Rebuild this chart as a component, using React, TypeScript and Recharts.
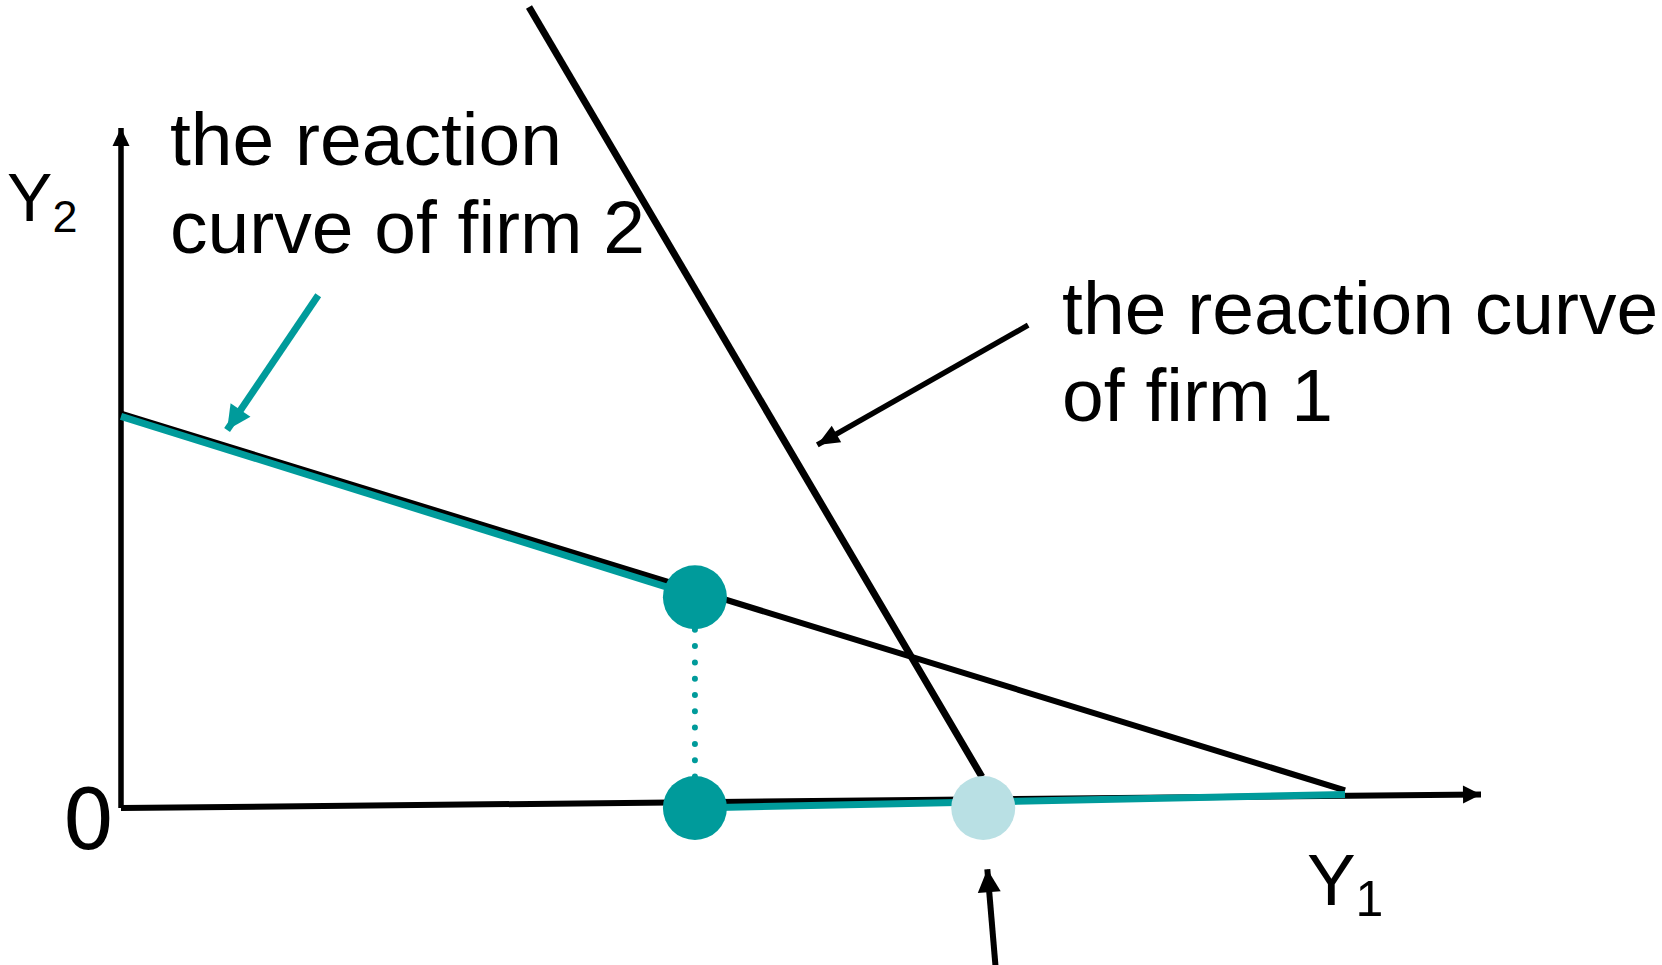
import React from "react";
import { ComposedChart, Line, Scatter, XAxis, YAxis, ReferenceDot } from "recharts";

const W = 1662;
const H = 965;
// where the origin sits and how many pixels one unit of output is
const ORIGIN_X = 121;
const ORIGIN_Y = 808;
const PX = 136;

const teal = "#009b9b";
const lightTeal = "#b9e0e4";

// axes (the Y1 axis is slightly tilted in the original)
const y2Axis = [{ x: 0, y: 0 }, { x: 0, y: 5 }];
const y1Axis = [{ x: 0, y: 0 }, { x: 10, y: 0.1 }];

// reaction curves
const firm2Curve = [{ x: 0, y: 2.9 }, { x: 9, y: 0.13 }];
const firm2Highlight = [{ x: 0, y: 2.88 }, { x: 4.22, y: 1.56 }];
const firm2OnAxis = [{ x: 4.22, y: 0 }, { x: 9, y: 0.1 }];
const firm1Curve = [{ x: 3, y: 5.89 }, { x: 6.33, y: 0.23 }];

// leader's point and its projection onto Y1
const dropLine = [{ x: 4.22, y: 1.55 }, { x: 4.22, y: 0 }];
const leaderPoints = [{ x: 4.22, y: 1.55 }, { x: 4.22, y: 0 }];
const cournotPoint = [{ x: 6.34, y: 0 }];

// pointer arrows
const pointerFirm2 = [{ x: 1.45, y: 3.77 }, { x: 0.78, y: 2.78 }];
const pointerFirm1 = [{ x: 6.67, y: 3.55 }, { x: 5.12, y: 2.67 }];
const pointerBottom = [{ x: 6.43, y: -1.16 }, { x: 6.37, y: -0.45 }];

// text
const firm2Label = ["the reaction", "curve of firm 2"];
const firm1Label = ["the reaction curve", "of firm 1"];

const xDomain = [-ORIGIN_X / PX, (W - ORIGIN_X) / PX];
const yDomain = [-(H - ORIGIN_Y) / PX, ORIGIN_Y / PX];

const FONT = "'Liberation Sans', Arial, sans-serif";

const arrowHead = (series: { x: number; y: number }[], color: string, len: number, width: number) =>
  (props: any) => {
    const { cx, cy, index, points } = props;
    const last = series.length - 1;
    if (index !== last) return <g key={`n-${index}`} />;
    let dx: number, dy: number;
    if (points && points.length > 1) {
      dx = points[last].x - points[last - 1].x;
      dy = points[last].y - points[last - 1].y;
    } else {
      dx = series[last].x - series[last - 1].x;
      dy = -(series[last].y - series[last - 1].y);
    }
    const l = Math.hypot(dx, dy);
    const ux = dx / l;
    const uy = dy / l;
    const bx = cx - ux * len;
    const by = cy - uy * len;
    const px = (-uy * width) / 2;
    const py = (ux * width) / 2;
    return (
      <polygon
        key={`a-${index}`}
        points={`${cx},${cy} ${bx + px},${by + py} ${bx - px},${by - py}`}
        fill={color}
      />
    );
  };

const multiLine = (lines: string[], size: number, lineGap: number) => (p: any) => (
  <text x={p.cx} y={p.cy} fontFamily={FONT} fontSize={size} fill="#000">
    {lines.map((t, i) => (
      <tspan key={i} x={p.cx} dy={i === 0 ? 0 : lineGap}>
        {t}
      </tspan>
    ))}
  </text>
);

const subLabel = (main: string, sub: string, size: number, subSize: number, subDx: number, subDy: number) =>
  (p: any) => (
    <text x={p.cx} y={p.cy} fontFamily={FONT} fontSize={size} fill="#000">
      {main}
      <tspan dx={subDx} dy={subDy} fontSize={subSize}>
        {sub}
      </tspan>
    </text>
  );

const circle = (r: number, color: string) => (p: any) => (
  <circle cx={p.cx} cy={p.cy} r={r} fill={color} />
);

export default function App() {
  return (
    <div style={{ position: "absolute", left: 0, top: 0, width: W, height: H, background: "#fff" }}>
      <ComposedChart width={W} height={H} margin={{ top: 0, right: 0, bottom: 0, left: 0 }}>
        <XAxis type="number" dataKey="x" domain={xDomain} allowDataOverflow hide />
        <YAxis type="number" dataKey="y" domain={yDomain} allowDataOverflow hide />

        <Line data={y2Axis} dataKey="y" type="linear" stroke="#000" strokeWidth={5.5}
          dot={arrowHead(y2Axis, "#000", 18, 17)} activeDot={false} isAnimationActive={false} />
        <Line data={y1Axis} dataKey="y" type="linear" stroke="#000" strokeWidth={6}
          dot={arrowHead(y1Axis, "#000", 18, 18)} activeDot={false} isAnimationActive={false} />

        <Line data={firm2Curve} dataKey="y" type="linear" stroke="#000" strokeWidth={6}
          dot={false} activeDot={false} isAnimationActive={false} />
        <Line data={firm1Curve} dataKey="y" type="linear" stroke="#000" strokeWidth={7}
          dot={false} activeDot={false} isAnimationActive={false} />
        <Line data={firm2Highlight} dataKey="y" type="linear" stroke={teal} strokeWidth={7}
          dot={false} activeDot={false} isAnimationActive={false} />
        <Line data={firm2OnAxis} dataKey="y" type="linear" stroke={teal} strokeWidth={7}
          dot={false} activeDot={false} isAnimationActive={false} />
        <Line data={dropLine} dataKey="y" type="linear" stroke={teal} strokeWidth={6}
          strokeDasharray="0 16.3" strokeLinecap="round"
          dot={false} activeDot={false} isAnimationActive={false} />

        <Line data={pointerFirm2} dataKey="y" type="linear" stroke={teal} strokeWidth={7}
          dot={arrowHead(pointerFirm2, teal, 24, 24)} activeDot={false} isAnimationActive={false} />
        <Line data={pointerFirm1} dataKey="y" type="linear" stroke="#000" strokeWidth={5.5}
          dot={arrowHead(pointerFirm1, "#000", 22, 19)} activeDot={false} isAnimationActive={false} />
        <Line data={pointerBottom} dataKey="y" type="linear" stroke="#000" strokeWidth={6}
          dot={arrowHead(pointerBottom, "#000", 23, 23)} activeDot={false} isAnimationActive={false} />

        <Scatter data={leaderPoints} fill={teal} shape={circle(32, teal)} isAnimationActive={false} />
        <Scatter data={cournotPoint} fill={lightTeal} shape={circle(32, lightTeal)} isAnimationActive={false} />

        <ReferenceDot x={0.36} y={4.728} r={0} shape={multiLine(firm2Label, 75, 88)} />
        <ReferenceDot x={6.92} y={3.485} r={0} shape={multiLine(firm1Label, 75, 87)} />
        <ReferenceDot x={-0.838} y={4.316} r={0} shape={subLabel("Y", "2", 68, 45, 0, 11)} />
        <ReferenceDot x={8.72} y={-0.713} r={0} shape={subLabel("Y", "1", 73, 50, 0, 11)} />
        <ReferenceDot x={-0.434} y={-0.301} r={0}
          shape={(p: any) => (
            <text x={p.cx} y={p.cy} fontFamily="'DejaVu Sans', sans-serif" fontSize={83} fill="#000">0</text>
          )} />
      </ComposedChart>
    </div>
  );
}
